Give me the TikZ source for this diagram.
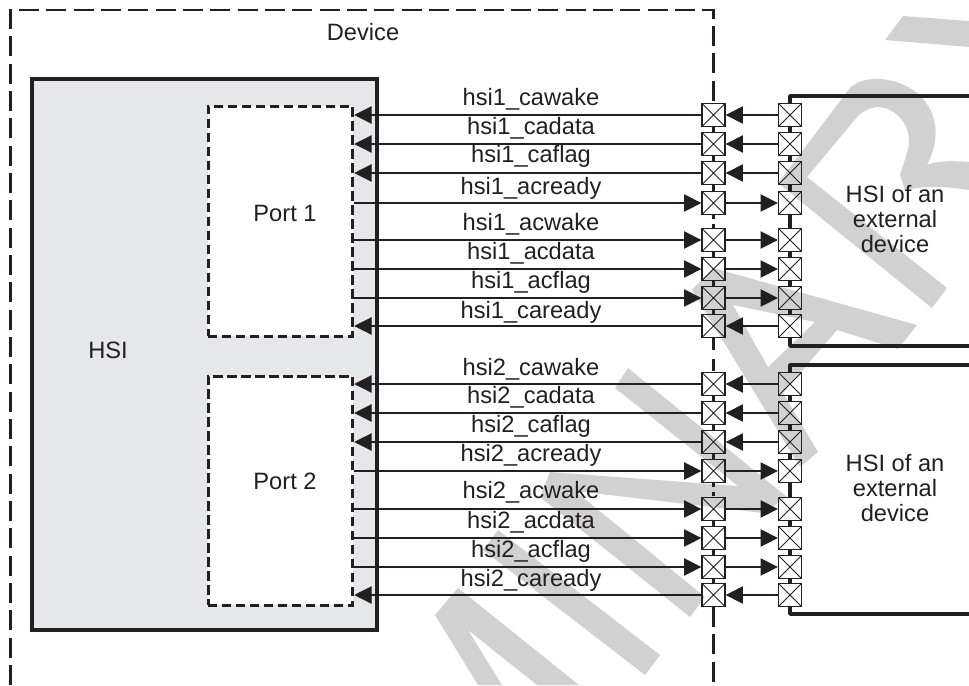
\documentclass[tikz,border=0pt]{standalone}
\usepackage{fontspec}
\setmainfont{Liberation Sans}
\usetikzlibrary{arrows.meta}
\definecolor{ink}{HTML}{231F20}
\definecolor{hsigray}{HTML}{E6E7E8}
\definecolor{markgray}{HTML}{D1D1D1}
\begin{document}
\begin{tikzpicture}[x=0.75pt,y=-0.75pt,every node/.style={text=ink,font=\fontsize{17.75}{18.8}\selectfont}]
  \tikzstyle{padbox} = [rectangle, draw=ink, line width=1.2pt, minimum size=17pt, inner sep=0pt, path picture={\draw[ink, line width=0.7pt] (path picture bounding box.north west) -- (path picture bounding box.south east) (path picture bounding box.north east) -- (path picture bounding box.south west);}]
  \tikzstyle{signal} = [ink, line width=0.85pt, -{Triangle[length=13pt,width=13pt]}]
  \tikzstyle{wirelabel} = [anchor=base, inner sep=0pt]
  \tikzstyle{bus} = [ink, line width=2.8pt, line join=round]
  \tikzstyle{devline} = [ink, line width=1.9pt, dash pattern=on 15pt off 5.5pt]
  \tikzstyle{devlink} = [ink, line width=1.9pt]
  \tikzstyle{portbox} = [draw=ink, fill=white, line width=2.3pt, dash pattern=on 7pt off 3.5pt, inner sep=0pt, minimum width=108.5pt]
  \useasboundingbox (0,0) rectangle (969,685);

  % Watermark
  \fill [markgray] (903,16) -- (969,21) -- (969,47) -- (885,40) -- cycle;
  \fill [markgray] (778,183) -- (850,88) .. controls (862,76) and (890,75) .. (913,90) .. controls (932,103) and (945,130) .. (927,165) .. controls (940,160) and (955,161) .. (969,162) -- (969,190) .. controls (950,187) and (930,185) .. (905,190) -- (900,175) -- (907,153) .. controls (913,135) and (905,118) .. (890,110) .. controls (878,104) and (866,108) .. (857,117) -- (807,177) -- cycle;
  \fill [markgray] (778,183) -- (932,308) -- (947,288) -- (807,177) -- cycle;
  \fill [markgray, even odd rule] (713,268) -- (917,325) -- (898,349) -- (837,330) -- (783,393) -- (818,452) -- (800,467) -- (692,290) -- cycle (733,305) -- (815,322) -- (768,367) -- cycle;
  \fill [markgray] (628,368) -- (787,497) -- (763,513) -- (575,491) -- (705,597) -- (690,617) -- (540,497) -- (550,472) -- (738,486) -- (615,388) -- cycle;
  \fill [markgray] (498,530) -- (660,655) -- (645,675) -- (483,550) -- cycle;
  \fill [markgray] (435,615) -- (458,588) -- (579,685) -- (537,685) -- (468,630) -- (502,685) -- (478,685) -- cycle;

  % Device boundary
  \coordinate (devbl) at (10.5,685);
  \coordinate (devtl) at (10.5,10);
  \coordinate (devtr) at (713.5,10);
  \coordinate (devbr) at (713.5,685);
  \node at (363,32) (devname) {Device};

  % HSI block
  \node [draw=ink, fill=hsigray, line width=3pt, minimum width=259pt, minimum height=413.5pt, inner sep=0pt, anchor=north west] (hsi) at (29.5,76.5) {};
  \node at (108,350) (hsiname) {HSI};
  \node [portbox, minimum height=172.5pt, anchor=north west] (port1) at (206.5,104.5) {};
  \node [portbox, minimum height=172pt, anchor=north west] (port2) at (206.5,374.5) {};
  \node at (285,213) (port1name) {Port 1};
  \node at (285,481) (port2name) {Port 2};

  % Pads on the device side
  \node [padbox] (dp1) at (713.5,115) {};
  \node [padbox] (dp2) at (713.5,144) {};
  \node [padbox] (dp3) at (713.5,173) {};
  \node [padbox] (dp4) at (713.5,203) {};
  \node [padbox] (dp5) at (713.5,240) {};
  \node [padbox] (dp6) at (713.5,269) {};
  \node [padbox] (dp7) at (713.5,298) {};
  \node [padbox] (dp8) at (713.5,326) {};
  \node [padbox] (dp9) at (713.5,384) {};
  \node [padbox] (dp10) at (713.5,413) {};
  \node [padbox] (dp11) at (713.5,442) {};
  \node [padbox] (dp12) at (713.5,471) {};
  \node [padbox] (dp13) at (713.5,509) {};
  \node [padbox] (dp14) at (713.5,538) {};
  \node [padbox] (dp15) at (713.5,567) {};
  \node [padbox] (dp16) at (713.5,595) {};

  % Pads on the external side
  \node [padbox] (ep1) at (790,115) {};
  \node [padbox] (ep2) at (790,144) {};
  \node [padbox] (ep3) at (790,173) {};
  \node [padbox] (ep4) at (790,203) {};
  \node [padbox] (ep5) at (790,240) {};
  \node [padbox] (ep6) at (790,269) {};
  \node [padbox] (ep7) at (790,298) {};
  \node [padbox] (ep8) at (790,326) {};
  \node [padbox] (ep9) at (790,384) {};
  \node [padbox] (ep10) at (790,413) {};
  \node [padbox] (ep11) at (790,442) {};
  \node [padbox] (ep12) at (790,471) {};
  \node [padbox] (ep13) at (790,509) {};
  \node [padbox] (ep14) at (790,538) {};
  \node [padbox] (ep15) at (790,567) {};
  \node [padbox] (ep16) at (790,595) {};

  % Device line
  \draw [devline] (devbl) -- (devtl) -- (devtr) -- (dp1.north);
  \draw [devlink] (dp1) -- (dp2);
  \draw [devlink] (dp2) -- (dp3);
  \draw [devlink] (dp3) -- (dp4);
  \draw [devlink, dash pattern=on 3pt off 3.8pt] (dp4.south) -- (dp5.north);
  \draw [devlink] (dp5) -- (dp6);
  \draw [devlink] (dp6) -- (dp7);
  \draw [devlink] (dp7) -- (dp8);
  \draw [devlink, dash pattern=on 9pt off 7pt] (dp8.south) -- (dp9.north);
  \draw [devlink] (dp9) -- (dp10);
  \draw [devlink] (dp10) -- (dp11);
  \draw [devlink] (dp11) -- (dp12);
  \draw [devlink, dash pattern=on 3pt off 3.8pt] (dp12.south) -- (dp13.north);
  \draw [devlink] (dp13) -- (dp14);
  \draw [devlink] (dp14) -- (dp15);
  \draw [devlink] (dp15) -- (dp16);
  \draw [devline] (dp16) -- (devbr);

  % External buses
  \coordinate (ex1t) at (969,96);
  \coordinate (ex1b) at (969,346);
  \coordinate (ex2t) at (969,365);
  \coordinate (ex2b) at (969,614);
  \draw [bus] (ep1.north) |- (ex1t);
  \draw [bus] (ep1) -- (ep2);
  \draw [bus] (ep2) -- (ep3);
  \draw [bus] (ep3) -- (ep4);
  \draw [bus] (ep4) -- (ep5);
  \draw [bus] (ep5) -- (ep6);
  \draw [bus] (ep6) -- (ep7);
  \draw [bus] (ep7) -- (ep8);
  \draw [bus] (ep8.south) |- (ex1b);
  \draw [bus] (ep9.north) |- (ex2t);
  \draw [bus] (ep9) -- (ep10);
  \draw [bus] (ep10) -- (ep11);
  \draw [bus] (ep11) -- (ep12);
  \draw [bus] (ep12) -- (ep13);
  \draw [bus] (ep13) -- (ep14);
  \draw [bus] (ep14) -- (ep15);
  \draw [bus] (ep15) -- (ep16);
  \draw [bus] (ep16.south) |- (ex2b);

  % Port 1 signals
  \draw [signal] (dp1) -- (dp1 -| port1.east);
  \draw [signal] (dp2) -- (dp2 -| port1.east);
  \draw [signal] (dp3) -- (dp3 -| port1.east);
  \draw [signal] (dp4 -| port1.east) -- (dp4);
  \draw [signal] (dp5 -| port1.east) -- (dp5);
  \draw [signal] (dp6 -| port1.east) -- (dp6);
  \draw [signal] (dp7 -| port1.east) -- (dp7);
  \draw [signal] (dp8) -- (dp8 -| port1.east);
  \draw [signal] (ep1) -- (dp1);
  \draw [signal] (ep2) -- (dp2);
  \draw [signal] (ep3) -- (dp3);
  \draw [signal] (dp4) -- (ep4);
  \draw [signal] (dp5) -- (ep5);
  \draw [signal] (dp6) -- (ep6);
  \draw [signal] (dp7) -- (ep7);
  \draw [signal] (ep8) -- (dp8);

  % Port 2 signals
  \draw [signal] (dp9) -- (dp9 -| port2.east);
  \draw [signal] (dp10) -- (dp10 -| port2.east);
  \draw [signal] (dp11) -- (dp11 -| port2.east);
  \draw [signal] (dp12 -| port2.east) -- (dp12);
  \draw [signal] (dp13 -| port2.east) -- (dp13);
  \draw [signal] (dp14 -| port2.east) -- (dp14);
  \draw [signal] (dp15 -| port2.east) -- (dp15);
  \draw [signal] (dp16) -- (dp16 -| port2.east);
  \draw [signal] (ep9) -- (dp9);
  \draw [signal] (ep10) -- (dp10);
  \draw [signal] (ep11) -- (dp11);
  \draw [signal] (dp12) -- (ep12);
  \draw [signal] (dp13) -- (ep13);
  \draw [signal] (dp14) -- (ep14);
  \draw [signal] (dp15) -- (ep15);
  \draw [signal] (ep16) -- (dp16);

  % Signal names
  \node [wirelabel] (sn1) at (531,105) {hsi1\_cawake};
  \node [wirelabel] (sn2) at (531,134) {hsi1\_cadata};
  \node [wirelabel] (sn3) at (531,162) {hsi1\_caflag};
  \node [wirelabel] (sn4) at (531,194) {hsi1\_acready};
  \node [wirelabel] (sn5) at (531,230) {hsi1\_acwake};
  \node [wirelabel] (sn6) at (531,259) {hsi1\_acdata};
  \node [wirelabel] (sn7) at (531,288) {hsi1\_acflag};
  \node [wirelabel] (sn8) at (531,318) {hsi1\_caready};
  \node [wirelabel] (sn9) at (531,375) {hsi2\_cawake};
  \node [wirelabel] (sn10) at (531,403) {hsi2\_cadata};
  \node [wirelabel] (sn11) at (531,432) {hsi2\_caflag};
  \node [wirelabel] (sn12) at (531,461) {hsi2\_acready};
  \node [wirelabel] (sn13) at (531,498) {hsi2\_acwake};
  \node [wirelabel] (sn14) at (531,528) {hsi2\_acdata};
  \node [wirelabel] (sn15) at (531,557) {hsi2\_acflag};
  \node [wirelabel] (sn16) at (531,586) {hsi2\_caready};

  % External devices
  \node [align=center, inner sep=0pt] (ext1) at (895,219) {HSI of an\\external\\device};
  \node [align=center, inner sep=0pt] (ext2) at (895,488) {HSI of an\\external\\device};
\end{tikzpicture}
\end{document}
